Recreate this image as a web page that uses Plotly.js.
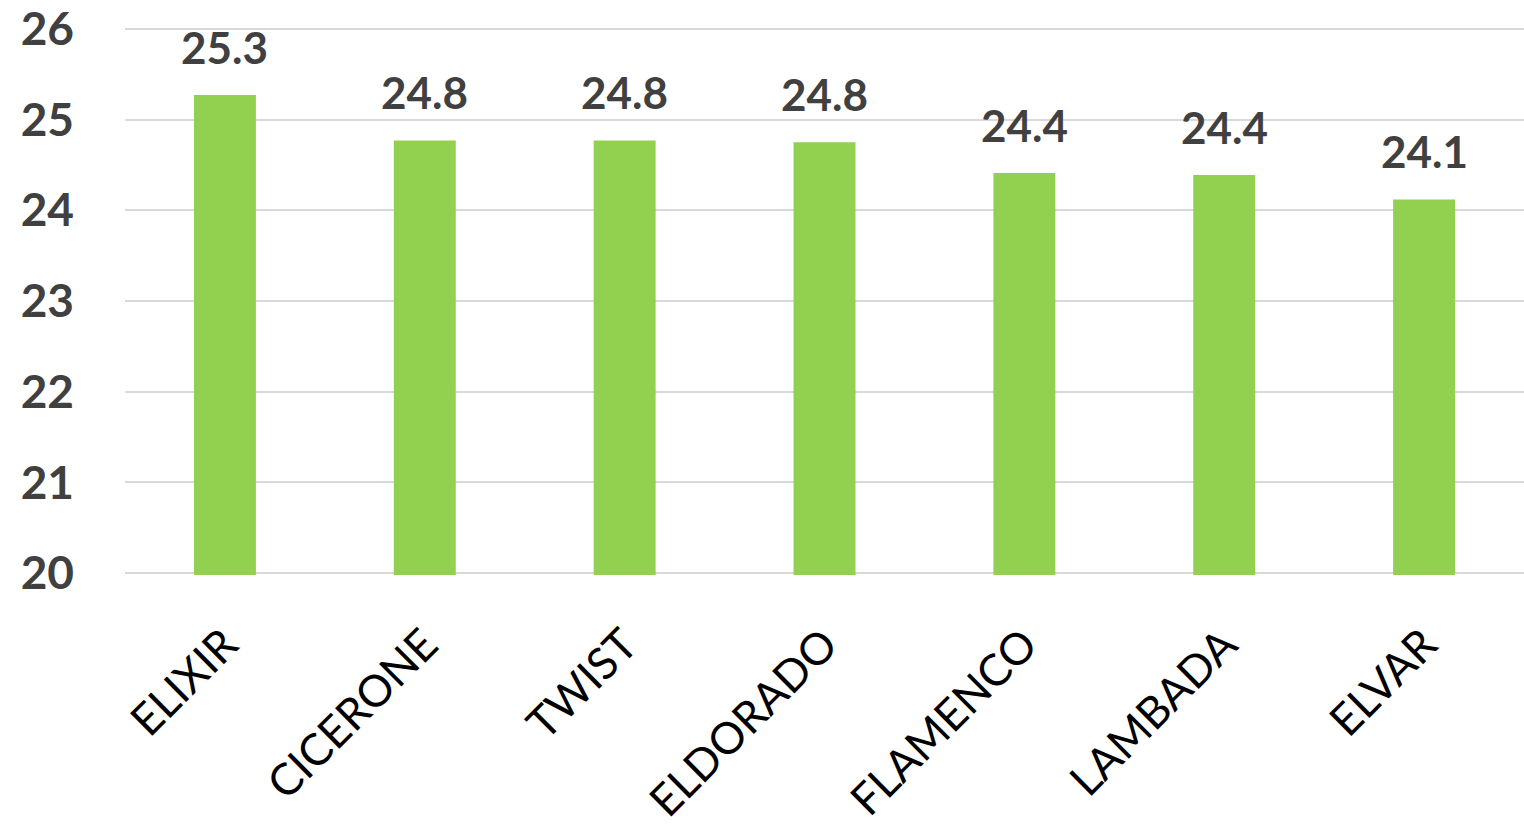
<!DOCTYPE html>
<html><head><meta charset="utf-8">
<script src="https://cdn.plot.ly/plotly-3.0.1.min.js"></script>
<style>html,body{margin:0;padding:0;background:#fff}#chart{width:1524px;height:827px}</style>
</head><body><div id="chart"></div>
<script>
const categories = ["ELIXIR","CICERONE","TWIST","ELDORADO","FLAMENCO","LAMBADA","ELVAR"];
const values = [25.27, 24.77, 24.77, 24.75, 24.41, 24.39, 24.12];
const yTicks = [20,21,22,23,24,25,26];

const trace = {
  type: 'bar', x: categories, y: values, base: 0,
  marker: {color: '#92D050'}, width: 0.31, hoverinfo: 'none'
};
const annotations = categories.map((c,i)=>({
  x: c, y: values[i], xref:'x', yref:'y', text: values[i].toFixed(1),
  showarrow:false, yanchor:'bottom', yshift: 20,
  font:{family:'Lato, Open Sans, sans-serif', size:44, color:'#404040', weight:'bold'}
}));
const layout = {
  width:1524, height:827,
  margin:{l:125, r:0, t:27, b:252},
  paper_bgcolor:'#fff', plot_bgcolor:'#fff',
  showlegend:false,
  xaxis:{type:'category', tickangle:-45, showgrid:false, zeroline:false, showline:false,
    ticks:'', ticklabelstandoff:34, ticklabeloverflow:'allow',
    tickfont:{family:'Lato, Open Sans, sans-serif', size:44, color:'#000'}},
  yaxis:{range:[19.98,26.02], tickvals:yTicks, ticktext:yTicks.map(String), showgrid:true, gridcolor:'#d9d9d9', gridwidth:2,
    zeroline:false, showline:false, ticks:'', ticklabelstandoff:50, ticklabeloverflow:'allow',
    tickfont:{family:'Lato, Open Sans, sans-serif', size:46, color:'#404040', weight:'bold'}},
  annotations: annotations
};
Plotly.newPlot('chart',[trace],layout,{displayModeBar:false, staticPlot:true});
</script></body></html>
